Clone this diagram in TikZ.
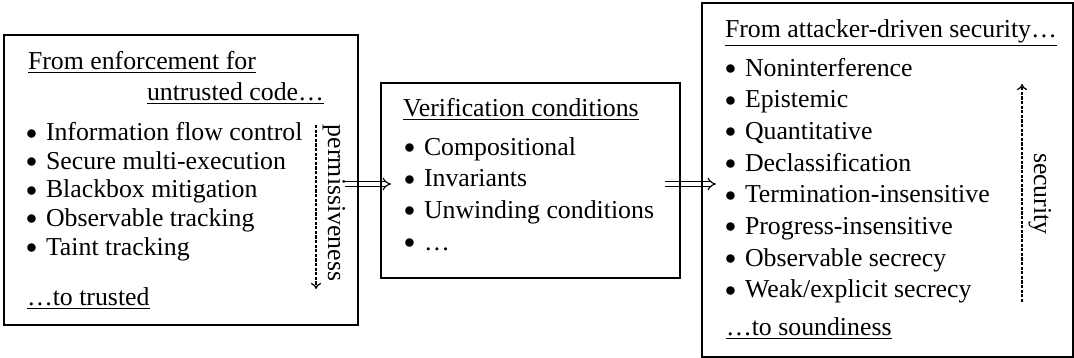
\documentclass[tikz,border=0pt]{standalone}
\usepackage{fontspec}
\setmainfont{Liberation Serif}
\usetikzlibrary{arrows.meta}
\newcommand\bul{\makebox[10pt][l]{\raisebox{0.8pt}{\fontsize{11}{11}\selectfont$\bullet$}}}
\begin{document}
\begin{tikzpicture}[x=0.5pt,y=-0.5pt,
  txt/.style={anchor=base west,inner sep=0pt,outer sep=0pt,font=\fontsize{12.9}{15}\selectfont},
  frame/.style={draw,line width=1pt,inner sep=0pt,outer sep=0pt,rectangle},
  dbl/.style={double,line width=0.55pt,double distance=1.6pt,-{Implies}},
  dasharrow/.style={line width=0.6pt,dash pattern=on 1.6pt off 0.7pt,-{To[length=3pt,width=5pt]}}
]
\useasboundingbox (0,0) rectangle (1074,358);

% connectors
\coordinate (a1s) at (345,184);
\coordinate (a1e) at (391,184);
\coordinate (a2s) at (665,184);
\coordinate (a2e) at (716,184);
\draw[dbl] (a1s) -- (a1e);
\draw[dbl] (a2s) -- (a2e);

\coordinate (ps) at (316,125);
\coordinate (pe) at (316,289);
\draw[dasharrow] (ps) -- (pe);
\coordinate (ss) at (1022,302);
\coordinate (se) at (1022,84);
\draw[dasharrow] (ss) -- (se);

% boxes
\node[frame,minimum width=177pt,minimum height=145pt] (leftbox) at (181,180) {};
\node[frame,minimum width=149.5pt,minimum height=97.5pt] (midbox) at (530.5,180.5) {};
\node[frame,minimum width=185.5pt,minimum height=177pt] (rightbox) at (887.5,180) {};

% left box text
\node[txt] (l0) at (28,69) {\underline{From enforcement for}};
\node[txt] (l1) at (147,100) {\underline{untrusted code…}};
\node[txt] (l2) at (26,140.7) {\bul Information flow control};
\node[txt] (l3) at (26,169.3) {\bul Secure multi-execution};
\node[txt] (l4) at (26,197.9) {\bul Blackbox mitigation};
\node[txt] (l5) at (26,226.5) {\bul Observable tracking};
\node[txt] (l6) at (26,255) {\bul Taint tracking};
\node[txt] (l7) at (27,305) {\underline{…to trusted}};
\node[txt,rotate=-90] (perm) at (328,125) {permissiveness};

% middle box text
\node[txt] (m0) at (403,116.7) {\underline{Verification conditions}};
\node[txt] (m1) at (404,155) {\bul Compositional};
\node[txt] (m2) at (404,186.7) {\bul Invariants};
\node[txt] (m3) at (404,218.3) {\bul Unwinding conditions};
\node[txt] (m4) at (404,250) {\bul …};

% right box text
\node[txt] (r0) at (725,37.3) {\underline{From attacker-driven security…}};
\node[txt] (r1) at (725,76) {\bul Noninterference};
\node[txt] (r2) at (725,107.7) {\bul Epistemic};
\node[txt] (r3) at (725,139.3) {\bul Quantitative};
\node[txt] (r4) at (725,171) {\bul Declassification};
\node[txt] (r5) at (725,202.7) {\bul Termination-insensitive};
\node[txt] (r6) at (725,234.3) {\bul Progress-insensitive};
\node[txt] (r7) at (725,266) {\bul Observable secrecy};
\node[txt] (r8) at (725,297.7) {\bul Weak/explicit secrecy};
\node[txt] (r9) at (726,335) {\underline{…to soundiness}};
\node[txt,rotate=-90] (sec) at (1034,153) {security};
\end{tikzpicture}
\end{document}
